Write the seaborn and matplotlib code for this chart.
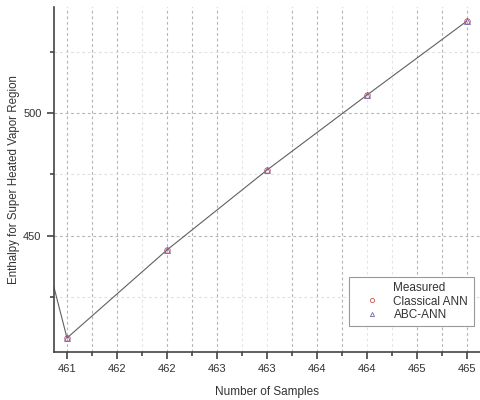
import numpy as np
import pandas as pd
import matplotlib
matplotlib.use("Agg")
import matplotlib.pyplot as plt
import seaborn as sns
from matplotlib.ticker import FixedLocator
from matplotlib.lines import Line2D

# ---- data ----
samples = [460, 461, 462, 463, 464, 465]
measured = [567.0, 408.5, 444.3, 476.8, 507.3, 537.4]
classical_ann = [408.5, 444.3, 476.8, 507.3, 537.4]
abc_ann = [408.5, 444.3, 476.8, 507.3, 537.4]
marker_samples = [461, 462, 463, 464, 465]
xtick_values = [461, 461.5, 462, 462.5, 463, 463.5, 464, 464.5, 465]
xtick_labels = ["461", "462", "462", "463", "463", "464", "464", "465", "465"]
xminor_values = [461.25, 461.75, 462.25, 462.75, 463.25, 463.75, 464.25, 464.75]
ytick_values = [450, 500]
ytick_labels = ["450", "500"]
yminor_values = [425, 475, 525]

sns.set_theme(style="white")
plt.rcParams['font.family'] = ['Liberation Sans', 'DejaVu Sans']

fig = plt.figure(figsize=(4.8, 4.0), dpi=100)
ax = fig.add_axes([0.1125, 0.12, 0.8875, 0.8625])

df_m = pd.DataFrame({"x": samples, "y": measured})
df_c = pd.DataFrame({"x": marker_samples, "y": classical_ann})
df_a = pd.DataFrame({"x": marker_samples, "y": abc_ann})

ax.set_xlim(460.87, 465.13)
ax.set_ylim(402.8, 543.1)

# grid
faint_x = {461.75, 462.75, 463.0, 464.0, 464.25}
for xv in xtick_values + xminor_values:
    col = "#e4e4e4" if xv in faint_x else "#b4b4b4"
    ax.axvline(xv, color=col, lw=0.8, ls=(0, (2.5, 2.5)), zorder=0)
for yv in ytick_values:
    ax.axhline(yv, color="#b4b4b4", lw=0.8, ls=(0, (2.5, 2.5)), zorder=0)
for yv in yminor_values:
    ax.axhline(yv, color="#e0e0e0", lw=0.8, ls=(0, (2.5, 2.5)), zorder=0)

sns.lineplot(data=df_m, x="x", y="y", ax=ax, color="#606060", lw=0.8,
             label="Measured", legend=False, zorder=2)
sns.lineplot(data=df_c, x="x", y="y", ax=ax, color="#d05050", lw=0,
             marker="o", markersize=4, markerfacecolor="none",
             markeredgecolor="#d05050", markeredgewidth=0.6,
             label="Classical ANN", legend=False, zorder=3)
sns.lineplot(data=df_a, x="x", y="y", ax=ax, color="#6a6ab0", lw=0,
             marker="^", markersize=4, markerfacecolor="none",
             markeredgecolor="#6a6ab0", markeredgewidth=0.6,
             label="ABC-ANN", legend=False, zorder=3)

ax.xaxis.set_major_locator(FixedLocator(xtick_values))
ax.set_xticklabels(xtick_labels)
ax.xaxis.set_minor_locator(FixedLocator(xminor_values))
ax.yaxis.set_major_locator(FixedLocator(ytick_values))
ax.set_yticklabels(ytick_labels)
ax.yaxis.set_minor_locator(FixedLocator(yminor_values))

ax.tick_params(axis="both", which="major", direction="out", length=5, width=1.1,
               color="#333333", labelsize=8, labelcolor="#333333", pad=4,
               bottom=True, left=True)
ax.tick_params(axis="both", which="minor", direction="out", length=3, width=1.1,
               color="#333333", bottom=True, left=True)

for s in ["top", "right"]:
    ax.spines[s].set_visible(False)
for s in ["left", "bottom"]:
    ax.spines[s].set_color("#444444")
    ax.spines[s].set_linewidth(1.2)

ax.set_xlabel("Number of Samples", fontsize=8.5, color="#333333", labelpad=8)
ax.set_ylabel("Enthalpy for Super Heated Vapor Region", fontsize=8.3,
              color="#333333")
ax.yaxis.set_label_coords(-0.08, 0.5)

handles = [
    Line2D([], [], color="none", lw=0),
    Line2D([], [], color="#d05050", lw=0, marker="o", markersize=3,
           markerfacecolor="none", markeredgewidth=0.6),
    Line2D([], [], color="#6a6ab0", lw=0, marker="^", markersize=3,
           markerfacecolor="none", markeredgewidth=0.6),
]
leg = ax.legend(handles, ["Measured", "Classical ANN", "ABC-ANN"],
                loc="upper left", bbox_to_anchor=(0.693, 0.217),
                fontsize=8.5, frameon=True, fancybox=False, framealpha=1,
                edgecolor="#999999", handlelength=3.0, handletextpad=0.3,
                borderpad=0.45, labelspacing=0.1, borderaxespad=0)
for t in leg.get_texts():
    t.set_color("#333333")
leg.get_frame().set_linewidth(0.8)

fig.savefig("out.png", dpi=100)
